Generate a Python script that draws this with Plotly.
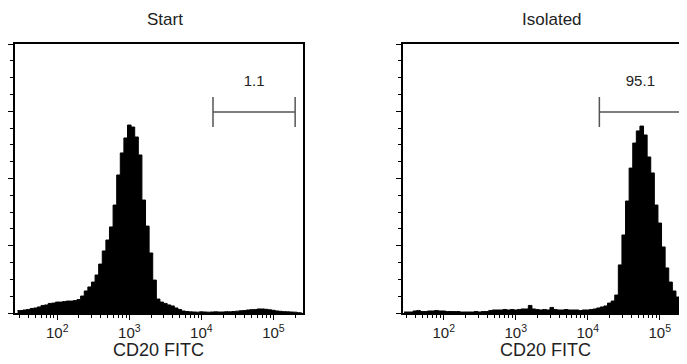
import math
import plotly.graph_objects as go

# ---------------- data ----------------
BIN_LOG = [1.45, 1.50, 1.55, 1.60, 1.65, 1.70, 1.75, 1.80, 1.85, 1.90,
           1.95, 2.00, 2.05, 2.10, 2.15, 2.20, 2.25, 2.30, 2.35, 2.40,
           2.45, 2.50, 2.55, 2.60, 2.65, 2.70, 2.75, 2.80, 2.85, 2.90,
           2.95, 3.00, 3.05, 3.10, 3.15, 3.20, 3.25, 3.30, 3.35, 3.40,
           3.45, 3.50, 3.55, 3.60, 3.65, 3.70, 3.75, 3.80, 3.85, 3.90,
           3.95, 4.00, 4.05, 4.10, 4.15, 4.20, 4.25, 4.30, 4.35, 4.40,
           4.45, 4.50, 4.55, 4.60, 4.65, 4.70, 4.75, 4.80, 4.85, 4.90,
           4.95, 5.00, 5.05, 5.10, 5.15, 5.20, 5.25, 5.30, 5.35, 5.40]

start_counts = [15, 15, 18, 21, 27, 30, 36, 45, 48, 57,
                59, 65, 65, 68, 71, 71, 74, 80, 101, 131,
                155, 184, 226, 291, 369, 434, 512, 642, 821, 952,
                1041, 1118, 1106, 1047, 940, 672, 517, 357, 196, 83,
                65, 57, 48, 42, 30, 21, 12, 9, 7, 6,
                5, 7, 6, 5, 6, 7, 6, 6, 8, 7,
                9, 11, 13, 15, 18, 20, 21, 24, 24, 22,
                19, 16, 12, 10, 8, 7, 6, 5, 2, 0]

isolated_counts = [6, 6, 6, 12, 15, 9, 9, 12, 12, 15,
                   12, 12, 9, 9, 9, 9, 6, 6, 6, 6,
                   9, 6, 9, 9, 15, 18, 18, 18, 21, 18,
                   21, 18, 21, 24, 24, 45, 24, 21, 18, 21,
                   18, 33, 21, 18, 18, 21, 18, 18, 18, 15,
                   18, 18, 21, 24, 30, 36, 42, 59, 71, 107,
                   286, 464, 666, 862, 1011, 1083, 1112, 1059, 928, 833,
                   642, 535, 393, 268, 184, 131, 95, 48, 33, 30]

panel_titles = ["Start", "Isolated"]
gate_labels = ["1.1", "95.1"]
gate_low, gate_high = 14500, 200000
gate_level = 1196
gate_cap_low, gate_cap_high = 1106, 1285
gate_label_level = 1375

x_tick_vals = [100, 1000, 10000, 100000]
x_tick_text = ["10<sup>2</sup>", "10<sup>3</sup>", "10<sup>4</sup>", "10<sup>5</sup>"]
x_minor_vals = [m * d for d in [10, 100, 1000, 10000, 100000] for m in range(2, 10)]
y_major_vals = [0, 400, 800, 1200, 1600]
x_title = "CD20 FITC"

# ---------------- figure ----------------
OFF = 8  # default page body margin
PW, PH = 687, 364
W, H = PW - OFF, PH - OFF
FONT = "Liberation Sans, Arial, Helvetica, sans-serif"
GATE_COLOR = "#555555"
TEXT_COLOR = "#222"


def px_x(x):
    return (x - OFF) / W


def px_y(y):
    return (H - (y - OFF)) / H


fig = go.Figure()

bin_x = [10 ** v for v in BIN_LOG]
series = [start_counts, isolated_counts]
axes = [("x", "y"), ("x2", "y2")]

for counts, (xa, ya) in zip(series, axes):
    fig.add_trace(go.Scatter(
        x=bin_x, y=counts, mode="lines", line=dict(color="black", width=1, shape="hvh"),
        fill="tozeroy", fillcolor="black", xaxis=xa, yaxis=ya, hoverinfo="skip"))
    fig.add_trace(go.Scatter(
        x=[gate_low, gate_high], y=[gate_level, gate_level], mode="lines",
        line=dict(color=GATE_COLOR, width=1.5), xaxis=xa, yaxis=ya, hoverinfo="skip"))
    for gx in (gate_low, gate_high):
        fig.add_trace(go.Scatter(
            x=[gx, gx], y=[gate_cap_low, gate_cap_high], mode="lines",
            line=dict(color=GATE_COLOR, width=1.5), xaxis=xa, yaxis=ya, hoverinfo="skip"))

for lbl, (xa, ya) in zip(gate_labels, axes):
    fig.add_trace(go.Scatter(
        x=[math.sqrt(gate_low * gate_high)], y=[gate_label_level], mode="text",
        text=[lbl], textfont=dict(family=FONT, size=15, color=TEXT_COLOR),
        xaxis=xa, yaxis=ya, hoverinfo="skip"))

ydom = [px_y(313), px_y(44)]
xdom1 = [px_x(14.7), px_x(303)]
xdom2 = [px_x(402.7), 1.0]

xcommon = dict(type="log", tickvals=x_tick_vals, ticktext=x_tick_text,
               ticks="outside", ticklen=5, tickwidth=1.2, tickcolor="black",
               minor=dict(tickvals=x_minor_vals, ticks="outside", ticklen=3,
                          tickwidth=1, tickcolor="black", showgrid=False),
               showgrid=False, zeroline=False, showline=True, linecolor="black",
               linewidth=2, tickfont=dict(family=FONT, size=15, color=TEXT_COLOR))
ycommon = dict(range=[0, 1600], tickvals=y_major_vals, showticklabels=False,
               ticks="outside", ticklen=5, tickwidth=1.2, tickcolor="black",
               minor=dict(dtick=100, ticks="outside", ticklen=3, tickwidth=1,
                          tickcolor="black", showgrid=False),
               showgrid=False, zeroline=False, showline=True, linecolor="black",
               linewidth=2)

fig.update_layout(
    width=W, height=H, margin=dict(l=0, r=0, t=0, b=0),
    paper_bgcolor="white", plot_bgcolor="white", showlegend=False,
    xaxis=dict(domain=xdom1, range=[1.41, 5.41], mirror=True, anchor="y", **xcommon),
    yaxis=dict(domain=ydom, mirror=True, anchor="x", **ycommon),
    xaxis2=dict(domain=xdom2, range=[1.43, 1.43 + (PW - 402.7) / 72], mirror=True,
                anchor="y2", **xcommon),
    yaxis2=dict(domain=ydom, mirror=False, anchor="x2", **ycommon),
)

annos = []
for title, cx in zip(panel_titles, [165, 551.7]):
    annos.append(dict(text=title, x=px_x(cx), y=px_y(20), xref="paper", yref="paper",
                      showarrow=False, xanchor="center", yanchor="middle",
                      font=dict(family=FONT, size=17, color=TEXT_COLOR)))
for cx in [158.5, 545]:
    annos.append(dict(text=x_title, x=px_x(cx), y=px_y(350), xref="paper", yref="paper",
                      showarrow=False, xanchor="center", yanchor="middle",
                      font=dict(family=FONT, size=18, color=TEXT_COLOR)))
fig.update_layout(annotations=annos)

fig.write_html("out.html")
